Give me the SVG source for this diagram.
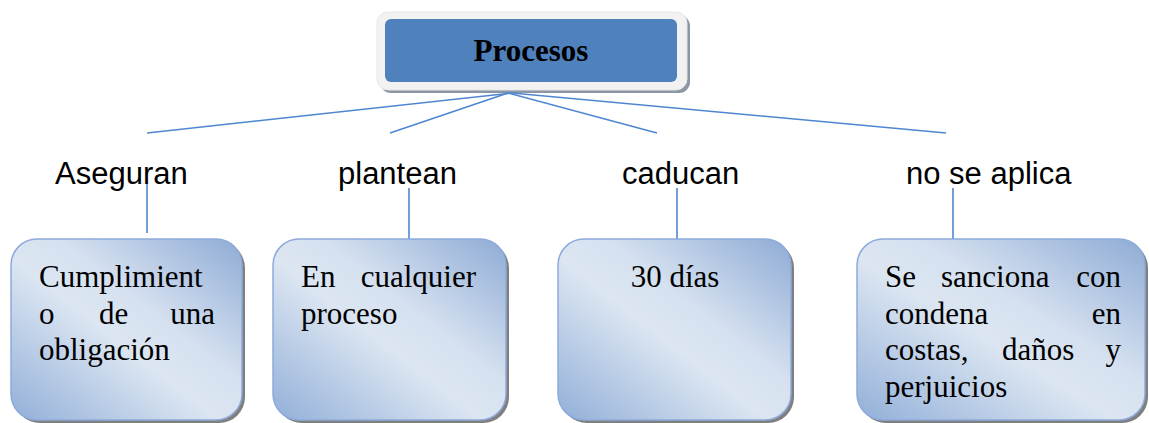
<svg xmlns="http://www.w3.org/2000/svg" width="1149" height="423" viewBox="0 0 1149 423">
<defs>
<linearGradient id="boxGrad" x1="0" y1="1" x2="1" y2="0">
<stop offset="0" stop-color="#92afd8"/>
<stop offset="0.45" stop-color="#dce6f2"/>
<stop offset="0.6" stop-color="#d6e1f0"/>
<stop offset="1" stop-color="#8eabd5"/>
</linearGradient>
<style>
.conn{stroke:#4f86d1;stroke-width:1.6;fill:none}
.lbl{font-family:"Liberation Sans",Arial,sans-serif;font-size:31px;fill:#000}
.btxt{font-family:"Liberation Serif","Times New Roman",serif;font-size:31px;fill:#000}
.box{fill:url(#boxGrad);stroke:#8eaadb;stroke-width:1.5}
.shadow{fill:#7f7f7f}
</style>
</defs>
<rect width="1149" height="423" fill="#ffffff"/>

<g id="procesos">
<rect x="380" y="15" width="310" height="78" rx="11" fill="#8c96a5"/>
<rect x="377" y="12" width="310" height="78" rx="11" fill="#f2f2f2" stroke="#e6e6e6" stroke-width="1"/>
<rect x="385" y="19" width="292" height="63" rx="6" fill="#4f81bd"/>
<text x="531" y="61" text-anchor="middle" font-family="'Liberation Serif','Times New Roman',serif" font-size="31" font-weight="bold" fill="#000">Procesos</text>
</g>

<g id="connectors">
<line class="conn" x1="512" y1="93" x2="147" y2="133"/>
<line class="conn" x1="508" y1="93" x2="390" y2="133"/>
<line class="conn" x1="508" y1="93" x2="657" y2="133"/>
<line class="conn" x1="512" y1="93" x2="946" y2="133"/>
<line class="conn" x1="147" y1="180" x2="147" y2="233"/>
<line class="conn" x1="409" y1="188" x2="409" y2="240"/>
<line class="conn" x1="677" y1="188" x2="677" y2="240"/>
<line class="conn" x1="953" y1="188" x2="953" y2="240"/>
</g>

<g id="lbl-aseguran"><text class="lbl" x="55" y="184">Aseguran</text></g>
<g id="lbl-plantean"><text class="lbl" x="338" y="184">plantean</text></g>
<g id="lbl-caducan"><text class="lbl" x="622" y="184">caducan</text></g>
<g id="lbl-noseaplica"><text class="lbl" x="906" y="184">no se aplica</text></g>

<g id="box-cumplimiento">
<rect class="shadow" x="14" y="242" width="231" height="181" rx="26"/>
<rect class="box" x="11" y="239" width="231" height="181" rx="26"/>
<text class="btxt" x="39" y="287">Cumplimient</text>
<text class="btxt" y="323.5"><tspan x="39">o</tspan><tspan x="99">de</tspan><tspan x="215" text-anchor="end">una</tspan></text>
<text class="btxt" x="39" y="360">obligación</text>
</g>

<g id="box-proceso">
<rect class="shadow" x="276" y="242" width="233" height="181" rx="26"/>
<rect class="box" x="273" y="239" width="233" height="181" rx="26"/>
<text class="btxt" y="287"><tspan x="301">En</tspan><tspan x="476" text-anchor="end">cualquier</tspan></text>
<text class="btxt" x="301" y="323.5">proceso</text>
</g>

<g id="box-30dias">
<rect class="shadow" x="561" y="242" width="233" height="181" rx="26"/>
<rect class="box" x="558" y="239" width="233" height="181" rx="26"/>
<text class="btxt" x="675" y="287" text-anchor="middle">30 días</text>
</g>

<g id="box-sanciona">
<rect class="shadow" x="860" y="242" width="288" height="181" rx="26"/>
<rect class="box" x="857" y="239" width="288" height="181" rx="26"/>
<text class="btxt" y="287"><tspan x="885">Se</tspan><tspan x="941">sanciona</tspan><tspan x="1121" text-anchor="end">con</tspan></text>
<text class="btxt" y="323.5"><tspan x="885">condena</tspan><tspan x="1121" text-anchor="end">en</tspan></text>
<text class="btxt" y="360"><tspan x="885">costas,</tspan><tspan x="1002">daños</tspan><tspan x="1121" text-anchor="end">y</tspan></text>
<text class="btxt" x="885" y="396.5">perjuicios</text>
</g>
</svg>
